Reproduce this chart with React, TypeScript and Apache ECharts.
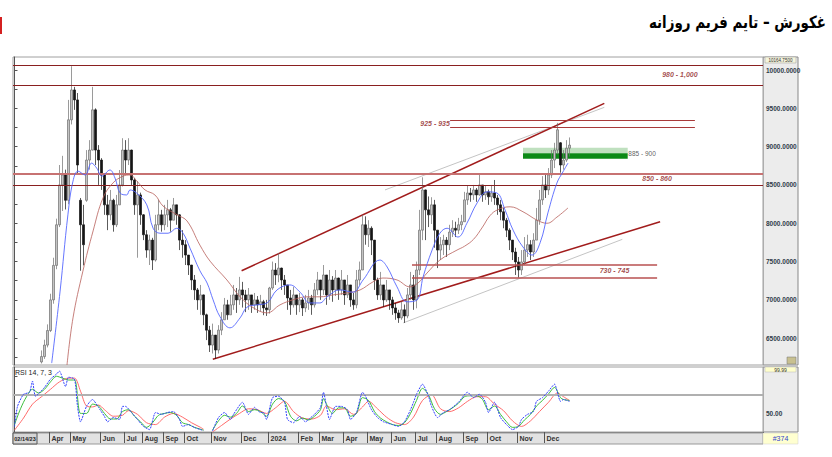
import React, { useEffect, useRef } from 'react';
import * as echarts from 'echarts';

// ---------- data ----------
const title = 'غکورش – تایم فریم روزانه';
const categoryCount = 250;
const candleStart = 9;
// [open, close, low, high]
const candles: number[][] = [
  [6190,6260,6170,6340],[6260,6410,6230,6480],[6410,6600,6380,6680],[6600,7000,6580,7080],[7000,7450,6950,7550],
  [7450,7980,7400,8060],[7980,8500,7950,8760],[8500,8630,8160,8880],[8630,8300,8180,8700],[8300,9350,8250,9610],
  [9350,9740,9290,10050],[9740,9610,9480,9780],[9610,8760,8630,9700],[8300,7980,7380,8330],[7980,7720,7450,8240],
  [8300,8825,8280,8955],[8825,8955,8700,9085],[8955,9480,8950,9780],[9480,8955,8760,9500],[8955,8825,8500,9020],
  [8825,8630,8435,8850],[8630,8240,8110,8650],[8240,8110,7910,8370],[8110,8300,8040,8435],[8300,7980,7890,8320],
  [7980,8240,7950,8370],[8240,8500,8240,8695],[8500,8955,8480,9110],[8955,8825,8630,9085],[8825,8955,8760,9110],
  [8955,8565,8500,8960],[8565,8240,8110,8590],[8240,8370,7550,8550],[8370,8110,7980,8400],[8110,7850,7780,8120],
  [7850,7650,7550,7910],[7650,7780,7455,7850],[7780,7520,7390,7810],[7520,7980,7500,8110],[7980,8110,7910,8305],
  [8110,7980,7890,8175],[7980,8110,7910,8240],[8110,8175,7950,8305],[8175,8040,7890,8200],[8040,8240,8040,8330],
  [8240,8110,7980,8240],[8110,7780,7650,8120],[7780,7720,7550,7910],[7720,7585,7455,7780],[7585,7455,7325,7585],
  [7455,7260,7130,7455],[7260,7130,7000,7325],[7130,7000,6870,7155],[7000,7065,6805,7195],[7065,6805,6670,7070],
  [6805,6605,6475,6820],[6605,6410,6320,6660],[6410,6540,6300,6690],[6540,6345,6230,6540],[6345,6605,6300,6670],
  [6605,6740,6540,6840],[6740,6935,6740,7025],[6935,6805,6740,7000],[6805,6935,6805,7065],[6935,7065,6870,7195],
  [7065,7000,6830,7155],[7000,7130,6935,7300],[7130,7065,6900,7235],[7065,7000,6840,7130],[7000,7065,6870,7155],
  [7065,6935,6830,7065],[6935,7000,6870,7090],[7000,6935,6830,7050],[6935,6975,6850,7065],[6975,6895,6800,7000],
  [6895,6870,6790,7000],[6870,7155,6820,7170],[7155,7390,7130,7500],[7390,7325,7195,7480],[7325,7415,7230,7610],
  [7415,7260,7130,7420],[7260,7195,7065,7325],[7195,7025,6870,7195],[7025,6935,6805,7130],[6935,7065,6900,7170],
  [7065,6935,6805,7065],[6935,7000,6840,7090],[7000,6895,6790,7025],[6895,6960,6840,7065],[6960,7025,6870,7130],
  [7025,6935,6805,7065],[6935,7130,6900,7220],[7130,7260,7065,7365],[7260,7130,7000,7260],[7130,7325,7065,7455],
  [7325,7065,6935,7325],[7065,7260,7000,7390],[7260,7130,6975,7310],[7130,7285,7050,7390],[7285,7130,7000,7290],
  [7130,7260,7065,7390],[7260,7065,6935,7260],[7065,7195,7025,7325],[7195,7000,6910,7195],[7000,6935,6870,7090],
  [6935,7260,6890,7390],[7260,7390,7195,7500],[7390,7980,7390,8110],[7980,7850,7720,8090],[7850,7935,7690,8040],
  [7935,7780,7585,7960],[7780,7260,7130,7780],[7260,7065,7000,7290],[7065,7195,7000,7365],[7195,7000,6910,7195],
  [7000,7130,6975,7260],[7130,7000,6870,7130],[7000,6895,6805,7040],[6895,6830,6740,6960],[6830,6765,6700,6870],
  [6765,6870,6740,6975],[6870,6790,6700,6940],[6790,7065,6760,7155],[7065,7195,7000,7365],[7195,7000,6870,7325],
  [7000,7390,6890,7500],[7390,7910,7325,8175],[7910,8435,7780,8600],[8435,8175,7780,8440],[8175,8110,7950,8350],
  [8110,8240,7990,8340],[8240,7910,7680,8305],[7910,7650,7415,7910],[7650,7720,7520,7820],[7720,7780,7585,7850],
  [7780,7720,7560,7820],[7720,7885,7650,7980],[7885,7935,7820,8040],[7935,7910,7820,8020],[7910,7980,7860,8070],
  [7980,8020,7910,8110],[8020,8305,8020,8410],[8305,8395,8240,8490],[8395,8370,8280,8460],[8370,8435,8305,8500],
  [8435,8370,8280,8460],[8370,8500,8360,8630],[8500,8370,8280,8500],[8370,8410,8305,8490],[8410,8345,8240,8440],
  [8345,8395,8280,8500],[8395,8330,8240,8565],[8330,8240,8110,8370],[8240,8150,8040,8305],[8150,8040,7935,8200],
  [8040,7910,7820,8070],[7910,7780,7650,7935],[7780,7625,7520,7780],[7625,7495,7325,7680],[7495,7390,7290,7560],
  [7390,7495,7325,7650],[7495,7650,7455,7820],[7650,7720,7560,7850],[7720,7625,7520,7780],[7625,7780,7560,7870],
  [7780,8040,7780,8200],[8040,8305,7980,8435],[8305,8500,8240,8615],[8500,8435,8330,8630],[8435,8630,8370,8720],
  [8630,8825,8590,8955],[8825,8955,8720,9050],[8955,9220,8900,9310],[9050,8760,8660,9060],[8760,8825,8700,8955],
  [8825,8980,8800,9085],[8980,9020,8870,9120],
];

const monthTicks: [number, string][] = [
  [12,'Apr'],[19,'May'],[29,'Jun'],[37,'Jul'],[43,'Aug'],[50,'Sep'],[57,'Oct'],[66,'Nov'],[76,'Dec'],
  [85,'2024'],[95,'Feb'],[102,'Mar'],[110,'Apr'],[118,'May'],[126,'Jun'],[134,'Jul'],[141,'Aug'],
  [150,'Sep'],[158,'Oct'],[168,'Nov'],[177,'Dec'],
];

const maFast: number[][] = [
  [12.4,6175],[15.2,7115],[17.8,8110],[19.5,8550],[21.2,8680],[23.5,8630],[25.7,8785],[27.4,8720],[29.1,8615],
  [31.8,8695],[33.5,8590],[35.2,8395],[37.4,8370],[38.5,8435],[40.7,8395],[44.1,8240],[46.2,7935],[48.5,7870],
  [51.2,7870],[54.1,7935],[56.2,7870],[58.5,7675],[61.8,7380],[64.2,7220],[66.2,7000],[68.5,6780],[71.8,6635],
  [75.2,6765],[77.5,6905],[80.8,6935],[84.2,6960],[87.5,7130],[91.8,7195],[95.2,7100],[98.5,6960],[101.8,6960],
  [104.2,7040],[108.5,7130],[112.8,7100],[116.2,7260],[121.8,7520],[124.2,7430],[127.5,7170],[130.8,6975],
  [134.2,7000],[136.2,7300],[139.2,7650],[141.8,7870],[144.2,7935],[147.8,7820],[150.8,8000],[154.2,8265],
  [157.5,8410],[160.8,8395],[163.5,8175],[166.2,7910],[169.5,7690],[172.5,7585],[175.2,7745],[177.8,8135],
  [180.8,8525],[182.8,8670],[184.5,8785],
];
const maSlow: number[][] = [
  [17.5,6150],[19.5,6765],[22.8,7375],[26.2,7900],[29.5,8330],[32.8,8525],[36.2,8615],[38.5,8630],[40.8,8550],
  [43.5,8435],[46.8,8370],[49.5,8225],[54.2,8110],[57.5,8030],[61.8,7715],[65.2,7505],[70.8,7260],[75.2,7040],
  [79.5,6900],[84.2,6830],[88.5,6935],[92.8,7000],[97.5,7040],[101.8,7040],[106.2,7065],[110.8,7090],
  [115.2,7130],[119.5,7235],[122.8,7285],[127.5,7260],[131.8,7170],[134.5,7220],[137.5,7350],[141.8,7520],
  [147.5,7650],[150,7700],[153,7790],[156,7950],[158.5,8100],[161,8175],[165.2,8215],[169.5,8150],[174.2,8040],
  [177.5,8000],[180.8,8080],[184.5,8200],
];

const rsiFast: (number | string)[][] = [
  [0,36],[1,57.6],[3,70.6],[5,72.8],[6,84.8],[7,68.5],[10,78],[12,87],[14,92.4],[15,95.6],[17,79],[18,89],[20,87],
  [21,57.6],[22,41],[24,57.6],[26,65],[28,56.5],[30,46.7],[31,41],[33,45.6],[35,43.5],[36,57.6],[37,57.6],[39,51],
  [41,43.5],[43,36],[45,32.6],[47,51],[49,49],[51,51],[53,52],[55,43.5],[56,36],[58,38],[60,34.8],[62,32.6],
  [63,31.5],[64,'-'],[66,31],[68,45.6],[70,51],[72,43.5],[73,49],[76,62],[78,49],[80,56.5],[82,51],[83,51],
  [84,43.5],[86,67],[88,68.5],[90,62],[91,43.5],[93,40],[95,46.7],[97,41],[98,43.5],[100,49],[102,56.5],
  [103,72.8],[104,57.6],[105,43.5],[107,57.6],[109,57.6],[111,54],[112,43.5],[114,51],[116,72.8],[117,68.5],
  [119,54],[121,45.6],[123,41],[126,38],[128,36],[130,41],[132,54],[133,62],[134,70.6],[136,81.5],[138,68.5],
  [139,57.6],[141,45.6],[143,51],[145,54],[148,62],[151,72.8],[153,67],[155,70.6],[157,62],[158,51],[160,62],
  [162,45.6],[164,38],[166,32.6],[168,36],[169,43.5],[171,49],[173,52],[174,63],[176,67],[178,74],[180,81.5],
  [182,63],[183,65],[185,63],
];
const rsiMid: (number | string)[][] = [
  [0,38],[2,55],[4,68],[6,76],[8,72],[10,76],[12,84],[14,90],[16,88],[18,86],[20,86],[22,50],[24,50],[26,60],
  [28,58],[30,50],[32,44],[34,44],[36,52],[38,54],[40,47],[42,41],[44,35],[46,40],[48,48],[50,50],[52,51],
  [54,48],[56,40],[58,38],[60,35],[62,33],[63,32],[64,'-'],[66,32],[68,42],[70,48],[72,46],[74,50],[76,58],
  [78,52],[80,54],[82,52],[84,47],[86,60],[88,66],[90,63],[92,47],[94,42],[96,45],[98,43],[100,47],[102,54],
  [103,66],[104,60],[106,50],[108,56],[110,56],[112,47],[114,50],[116,67],[118,64],[120,52],[122,45],[124,41],
  [126,38],[128,37],[130,40],[132,50],[134,64],[136,77],[138,70],[140,55],[142,49],[144,52],[146,56],[148,61],
  [150,68],[152,69],[154,69],[156,65],[158,54],[160,58],[162,49],[164,41],[166,35],[168,36],[170,43],[172,49],
  [174,58],[176,64],[178,71],[180,78],[182,67],[183,65],[185,64],
];
const rsiSlow: (number | string)[][] = [
  [0,32],[3,45],[6,60],[9,68],[12,76],[15,84],[18,88],[20,88],[22,74],[24,58],[26,57],[28,59],[30,54],[33,47],
  [36,48],[38,53],[41,49],[44,40],[47,38],[50,46],[53,50],[56,46],[59,40],[62,35],[63,33],[64,'-'],[66,30],
  [69,37],[72,44],[75,50],[78,55],[81,54],[84,50],[87,56],[90,63],[93,52],[96,45],[99,44],[102,48],[104,58],
  [107,54],[110,55],[113,49],[116,57],[118,63],[121,55],[124,46],[127,40],[130,38],[133,46],[136,64],[139,70],
  [142,55],[145,52],[148,56],[151,63],[154,68],[157,68],[160,60],[163,53],[166,42],[169,36],[172,42],[175,52],
  [178,62],[181,72],[183,68],[185,64],
];

const priceLabels = [6500, 7000, 7500, 8000, 8500, 9000, 9500, 10000];
const priceTicks = [6250, 6500, 6750, 7000, 7250, 7500, 7750, 8000, 8250, 8500, 8750, 9000, 9250, 9500, 9750, 10000];
const rsiLabels = [50];
const rsiLevel = 70;

const fullLevelsDark = [10060, 9800, 8500];
const fullLevelsLight = [8650];
const upperZone = { from: 145.2, to: 226.8, levels: [9340, 9257] };
const lowerZone = { from: 132.5, to: 214.2, levels: [7455, 7290] };
const greenZone = { from: 169.5, to: 204.4, low: 8843, mid: 8913, high: 8986 };

const channelUpper = [[75.7, 7380], [196.6, 9565]];
const channelLower = [[66.1, 6225], [215.2, 8020]];
const greyUpper = [[123.5, 8435], [196.6, 9513]];
const greyLower = [[129.6, 6700], [202.6, 7790]];

const zoneLabels = [
  { name: '980 - 1,000', at: [221.8, 9939] },
  { name: '925 - 935', at: [140.2, 9305] },
  { name: '850 - 860', at: [214.2, 8587] },
  { name: '730 - 745', at: [200, 7380] },
];
const greenLabel = { name: '885 - 900', at: [204.6, 8917] };

// ---------- component ----------
export default function App() {
  const ref = useRef<HTMLDivElement>(null);
  useEffect(() => {
    if (!ref.current) return;
    const chart = echarts.init(ref.current, undefined, { renderer: 'svg' });
    const labelMap = new Map<number, string>(monthTicks.map(([i, l]) => [i, l]));
    const categories = Array.from({ length: categoryCount }, (_, i) => labelMap.get(i) ?? '');
    const showIdx = (index: number) => labelMap.has(index);
    const candleData: any[] = [];
    for (let i = 0; i < candleStart; i++) candleData.push(['-', '-', '-', '-']);
    candles.forEach((c) => candleData.push(c));

    const darkRed = '#8a2020';
    const lightRed = '#c77272';
    const font = 'Liberation Sans';

    const segLine = (pts: number[][], color: string, width: number) => ({
      type: 'line', xAxisIndex: 2, yAxisIndex: 0, data: pts, symbol: 'none', silent: true,
      lineStyle: { color, width }, z: 3,
    });

    const option: any = {
      animation: false,
      grid: [
        { left: 13, top: 57, width: 750, height: 308, show: true, borderColor: '#a0a0a0', borderWidth: 1, backgroundColor: '#fff' },
        { left: 13, top: 367, width: 750, height: 65, show: true, borderColor: '#a0a0a0', borderWidth: 1, backgroundColor: '#fff' },
      ],
      xAxis: [
        { type: 'category', gridIndex: 0, data: categories, show: false },
        {
          type: 'category', gridIndex: 1, data: categories,
          axisLine: { show: true, lineStyle: { color: '#888' } },
          axisTick: { show: true, interval: showIdx, length: 11, lineStyle: { color: '#555' } },
          axisLabel: { interval: showIdx, align: 'left', margin: 3, fontSize: 7, fontWeight: 'bold', color: '#333', fontFamily: font, padding: [0, 0, 0, 1] },
        },
        { type: 'value', gridIndex: 0, min: -0.5, max: categoryCount - 0.5, show: false },
        { type: 'value', gridIndex: 1, min: -0.5, max: categoryCount - 0.5, show: false },
      ],
      yAxis: [
        {
          type: 'value', gridIndex: 0, position: 'right', min: 6150, max: 10170,
          splitLine: { show: false },
          axisLine: { show: true, lineStyle: { color: '#555' } },
          axisTick: { show: true, length: 3, customValues: priceTicks, lineStyle: { color: '#555' } },
          axisLabel: { customValues: priceLabels, formatter: (v: number) => v.toFixed(4), fontSize: 6.5, fontWeight: 'bold', color: '#2f3b4a', margin: 3, fontFamily: font },
        },
        {
          type: 'value', gridIndex: 1, position: 'right', min: 30, max: 100,
          splitLine: { show: false },
          axisLine: { show: true, lineStyle: { color: '#555' } },
          axisTick: { show: true, length: 3, customValues: [50, 70, 90], lineStyle: { color: '#555' } },
          axisLabel: { customValues: rsiLabels, formatter: (v: number) => v.toFixed(2), fontSize: 6.5, fontWeight: 'bold', color: '#2f3b4a', margin: 3, fontFamily: font },
        },
      ],
      series: [
        {
          type: 'candlestick', xAxisIndex: 0, yAxisIndex: 0, data: candleData, barWidth: 1.8,
          itemStyle: { color: '#c4c4c4', color0: '#151515', borderColor: '#6e6e6e', borderColor0: '#151515', borderWidth: 0.7 },
          z: 4,
        },
        {
          type: 'line', xAxisIndex: 2, yAxisIndex: 0, data: [], symbol: 'none', silent: true,
          markLine: {
            silent: true, symbol: 'none', label: { show: false },
            data: [
              ...fullLevelsDark.map((v) => ({ yAxis: v, lineStyle: { color: darkRed, width: 1.2, type: 'solid' } })),
              ...fullLevelsLight.map((v) => ({ yAxis: v, lineStyle: { color: lightRed, width: 2, type: 'solid' } })),
              ...upperZone.levels.map((v) => [
                { coord: [upperZone.from, v], lineStyle: { color: '#a83a3a', width: 1.2, type: 'solid' } },
                { coord: [upperZone.to, v] },
              ]),
              ...lowerZone.levels.map((v) => [
                { coord: [lowerZone.from, v], lineStyle: { color: '#b85050', width: 1.5, type: 'solid' } },
                { coord: [lowerZone.to, v] },
              ]),
            ],
          },
          markArea: {
            silent: true,
            data: [
              [{ coord: [greenZone.from, greenZone.high], itemStyle: { color: '#bfe0bf' } }, { coord: [greenZone.to, greenZone.mid] }],
              [{ coord: [greenZone.from, greenZone.mid], itemStyle: { color: '#0b8a16' } }, { coord: [greenZone.to, greenZone.low] }],
            ],
          },
          z: 2,
        },
        segLine(greyUpper, '#c4c4c4', 1),
        segLine(greyLower, '#c4c4c4', 1),
        segLine(channelUpper, '#a11c1c', 1.5),
        segLine(channelLower, '#a11c1c', 1.5),
        {
          type: 'line', xAxisIndex: 2, yAxisIndex: 0, data: maSlow, symbol: 'none', smooth: 0.4, silent: true,
          lineStyle: { color: '#b8605a', width: 0.8 }, z: 5,
        },
        {
          type: 'line', xAxisIndex: 2, yAxisIndex: 0, data: maFast, symbol: 'none', smooth: 0.4, silent: true,
          lineStyle: { color: '#5566ff', width: 0.9 }, z: 5,
        },
        {
          type: 'scatter', xAxisIndex: 2, yAxisIndex: 0, symbolSize: 0, silent: true, z: 6,
          data: zoneLabels.map((z) => ({ name: z.name, value: z.at })),
          label: { show: true, position: 'inside', formatter: '{b}', fontSize: 7, fontStyle: 'italic', fontWeight: 'bold', color: '#8e1c1c', fontFamily: font },
        },
        {
          type: 'scatter', xAxisIndex: 2, yAxisIndex: 0, symbolSize: 0, silent: true, z: 6,
          data: [{ name: greenLabel.name, value: greenLabel.at }],
          label: { show: true, position: 'right', distance: 0, formatter: '{b}', fontSize: 6.5, color: '#333', fontFamily: font },
        },
        {
          type: 'line', xAxisIndex: 3, yAxisIndex: 1, data: [], symbol: 'none', silent: true,
          markLine: { silent: true, symbol: 'none', label: { show: false }, data: [{ yAxis: rsiLevel, lineStyle: { color: '#b0b0b0', width: 2, type: 'solid' } }] },
        },
        { type: 'line', xAxisIndex: 3, yAxisIndex: 1, data: rsiSlow, symbol: 'none', smooth: 0.3, silent: true, lineStyle: { color: '#ff5a5a', width: 0.9 }, z: 3 },
        { type: 'line', xAxisIndex: 3, yAxisIndex: 1, data: rsiMid, symbol: 'none', smooth: 0.3, silent: true, lineStyle: { color: '#27b827', width: 0.9 }, z: 4 },
        { type: 'line', xAxisIndex: 3, yAxisIndex: 1, data: rsiFast, symbol: 'none', smooth: 0.2, silent: true, lineStyle: { color: '#3040ff', width: 1, type: [2, 1] }, z: 5 },
      ],
      graphic: [
        { type: 'rect', z: -1, shape: { x: 763, y: 57, width: 35, height: 308 }, style: { fill: '#ececec', stroke: '#888', lineWidth: 1 } },
        { type: 'rect', z: -1, shape: { x: 763, y: 367, width: 35, height: 65 }, style: { fill: '#ececec', stroke: '#888', lineWidth: 1 } },
        { type: 'rect', z: -1, shape: { x: 13, y: 433, width: 750, height: 11 }, style: { fill: '#e2e2e2', stroke: '#999', lineWidth: 1 } },
        { type: 'rect', z: 1, shape: { x: 765, y: 57, width: 31, height: 6 }, style: { fill: '#f4f4dc', stroke: '#999', lineWidth: 0.5 } },
        { type: 'text', z: 2, x: 780.5, y: 60, style: { text: '10164.7500', fontSize: 4.5, fontFamily: font, fill: '#333', align: 'center', verticalAlign: 'middle' } },
        { type: 'rect', z: 1, shape: { x: 765, y: 367, width: 31, height: 5 }, style: { fill: '#ffffcc', stroke: '#bbb', lineWidth: 0.5 } },
        { type: 'text', z: 2, x: 780.5, y: 369.5, style: { text: '99.99', fontSize: 5, fontFamily: font, fill: '#333', align: 'center', verticalAlign: 'middle' } },
        { type: 'rect', z: 1, shape: { x: 763, y: 433, width: 35, height: 11 }, style: { fill: '#ffffd0', stroke: '#ccc', lineWidth: 0.5 } },
        { type: 'text', z: 2, x: 780.5, y: 438.5, style: { text: '#374', fontSize: 7, fontFamily: font, fill: '#3344cc', align: 'center', verticalAlign: 'middle' } },
        { type: 'rect', z: 1, shape: { x: 13, y: 433, width: 24, height: 11 }, style: { fill: '#d6d6d6', stroke: '#555', lineWidth: 1 } },
        { type: 'text', z: 2, x: 25, y: 438.5, style: { text: '02/14/23', fontSize: 5.5, fontWeight: 'bold', fontFamily: font, fill: '#222', align: 'center', verticalAlign: 'middle' } },
        { type: 'rect', z: 1, shape: { x: 787, y: 357, width: 9, height: 7 }, style: { fill: '#c8c090', stroke: '#777', lineWidth: 0.5 } },
        { type: 'text', z: 2, x: 15, y: 372, style: { text: 'RSI 14, 7, 3', fontSize: 7, fontFamily: font, fill: '#222', verticalAlign: 'middle' } },
        { type: 'rect', shape: { x: 0, y: 17, width: 2, height: 17 }, style: { fill: '#d42020' } },
        { type: 'text', x: 826, y: 22, scaleX: 0.84, scaleY: 1.05, style: { text: title, font: 'bold 16px "DejaVu Sans"', fill: '#000', align: 'right', verticalAlign: 'middle' } },
      ],
    };
    chart.setOption(option);
    return () => chart.dispose();
  }, []);
  return <div ref={ref} style={{ position: 'fixed', left: 0, top: 0, width: 832, height: 457, background: '#fff' }} />;
}
